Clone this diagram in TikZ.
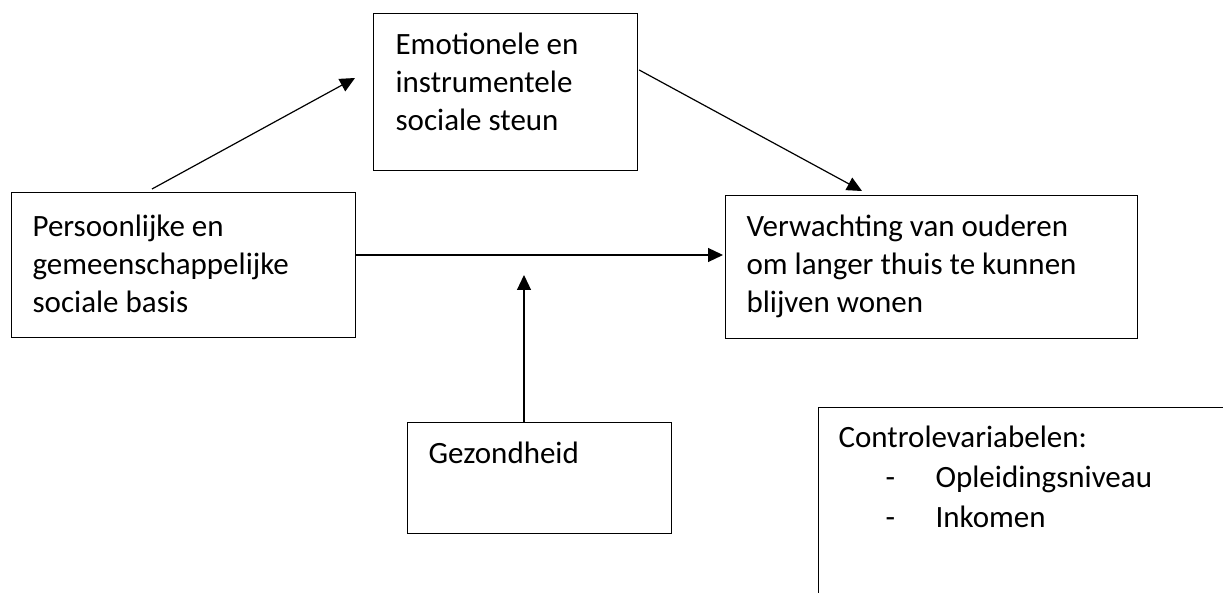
\documentclass[tikz,border=0pt]{standalone}
\usepackage{fontspec}
\setmainfont{Carlito}
\usetikzlibrary{arrows.meta,calc}

\tikzset{
  box/.style={draw,line width=1.2pt,inner sep=0pt,anchor=north west},
  boxtext/.style={anchor=base west,align=left,inner sep=0pt,
    font=\fontsize{31}{38}\selectfont},
}

\begin{document}
\begin{tikzpicture}[x=1pt,y=-1pt,>={Triangle[length=15pt,width=14pt]},
      line width=1.2pt]
  \clip (0,0) rectangle (1223,593);
  % boxes
  \node[box,minimum width=344,minimum height=145] (pers) at (11,192) {};
  \node[box,minimum width=264,minimum height=157] (emo) at (373,13) {};
  \node[box,minimum width=412,minimum height=143] (verw) at (725,195) {};
  \node[box,minimum width=264,minimum height=111] (gez) at (407,422) {};
  \node[box,minimum width=430,minimum height=220] (ctrl) at (818,407) {};
  % texts (base = last line)
  \node[boxtext] (perstxt) at ($(pers.north west)+(21,121)$)
    {Persoonlijke en\\gemeenschappelijke\\sociale basis};
  \node[boxtext] (emotxt) at ($(emo.north west)+(22,118)$)
    {Emotionele en\\instrumentele\\sociale steun};
  \node[boxtext] (verwtxt) at ($(verw.north west)+(21,118)$)
    {Verwachting van ouderen\\om langer thuis te kunnen\\blijven wonen};
  \node[boxtext] (geztxt) at ($(gez.north west)+(21,41)$) {Gezondheid};
  \node[boxtext,font=\fontsize{31}{40}\selectfont] (ctrltxt)
    at ($(ctrl.north west)+(20,120)$)
    {Controlevariabelen:\\
     \makebox[97pt][l]{\hspace*{47pt}-}Opleidingsniveau\\
     \makebox[97pt][l]{\hspace*{47pt}-}Inkomen};
  % arrows
  \coordinate (petip) at (355,78);
  \coordinate (evtip) at (862,191);
  \coordinate (gtip) at (524,275);
  \draw[->] ($(pers.north west)+(141,-3)$) -- (petip);
  \draw[->] ($(emo.north east)+(1,57)$) -- (evtip);
  \draw[->] ($(pers.north east)+(0,63)$) -- ($(verw.north west)+(-2,60)$);
  \draw[->] ($(gez.north west)+(117,0)$) -- (gtip);
\end{tikzpicture}
\end{document}
